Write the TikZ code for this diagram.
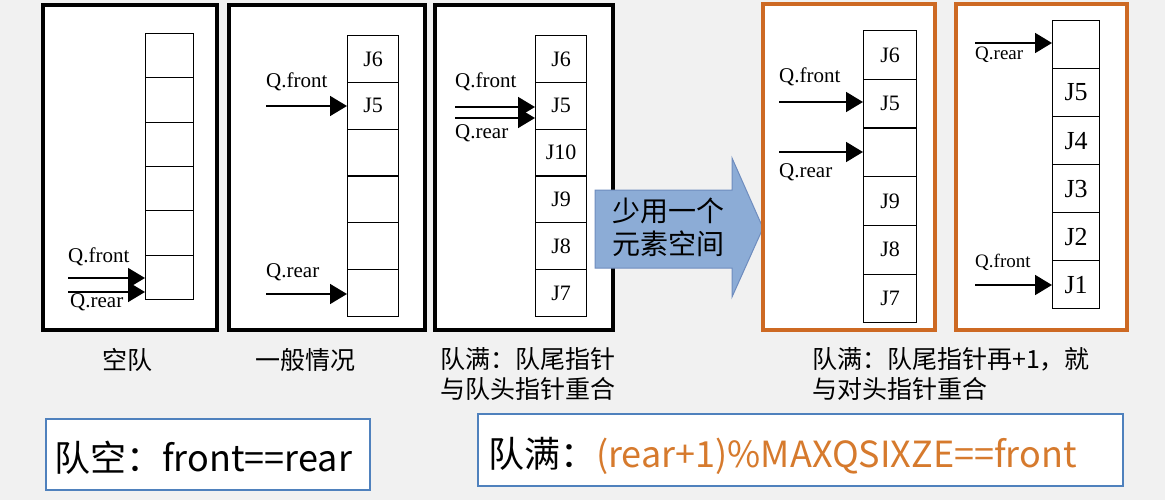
\documentclass[tikz,border=0pt]{standalone}
\usepackage{fontspec}
\setmainfont{Liberation Serif}
\newfontfamily\cjk{Noto Sans CJK SC}
\usetikzlibrary{arrows.meta}
\definecolor{bg}{RGB}{241,241,241}
\definecolor{orangeframe}{RGB}{205,105,35}
\definecolor{orangetext}{RGB}{214,122,45}
\definecolor{boxblue}{RGB}{79,129,189}
\definecolor{arrowfill}{RGB}{140,172,214}
\definecolor{arrowdraw}{RGB}{110,140,190}
\tikzset{
  framebk/.style={draw=black, line width=4.8pt, fill=white},
  frameor/.style={draw=orangeframe, line width=4pt, fill=white},
  cell/.style={draw, line width=1.2pt, inner sep=0pt, anchor=north west, font=\fontsize{22}{22}\selectfont},
  ptr/.style={line width=1.6pt, -{Triangle[length=17pt,width=20pt]}},
  qlab/.style={anchor=west, inner sep=0pt, font=\fontsize{21}{21}\selectfont},
  caption/.style={anchor=west, align=left, inner sep=0pt, font=\cjk\fontsize{25}{30}\selectfont},
  formbox/.style={draw=boxblue, line width=2pt, fill=white},
  formtext/.style={anchor=west, inner sep=0pt, font=\cjk\fontsize{36}{36}\selectfont}
}
\begin{document}
\begin{tikzpicture}[x=1pt,y=-1pt]
\fill[bg] (0,0) rectangle (1165,500);
\useasboundingbox (0,0) rectangle (1165,500);

% ---------- panel 1 ----------
\draw[framebk] (43,5) rectangle (217,330);
\foreach \lab [count=\i from 0] in {{},{},{},{},{},{}}
  \node[cell, minimum width=48pt, minimum height=44.3pt] (p1c\i) at (145,33+\i*44.3) {\lab};
\node[qlab] (p1fl) at (68,257) {Q.front};
\node[qlab] (p1rl) at (70,302) {Q.rear};
\coordinate (p1fs) at (68,278);
\coordinate (p1rs) at (68,292);
\draw[ptr] (p1fs) -- (p1fs -| p1c5.west);
\draw[ptr] (p1rs) -- (p1rs -| p1c5.west);

% ---------- panel 2 ----------
\draw[framebk] (229,5) rectangle (425,330);
\foreach \lab [count=\i from 0] in {J6,J5,{},{},{},{}}
  \node[cell, minimum width=51pt, minimum height=46.8pt] (p2c\i) at (347,35+\i*46.8) {\lab};
\node[qlab] (p2fl) at (266,82) {Q.front};
\node[qlab] (p2rl) at (266,272) {Q.rear};
\coordinate (p2fs) at (266,106);
\coordinate (p2rs) at (266,294);
\draw[ptr] (p2fs) -- (p2fs -| p2c1.west);
\draw[ptr] (p2rs) -- (p2rs -| p2c5.west);

% ---------- panel 3 ----------
\draw[framebk] (435,5) rectangle (613,330);
\foreach \lab [count=\i from 0] in {J6,J5,J10,J9,J8,J7}
  \node[cell, minimum width=51pt, minimum height=46.8pt] (p3c\i) at (535,35+\i*46.8) {\lab};
\node[qlab] (p3fl) at (455,82) {Q.front};
\node[qlab] (p3rl) at (455,133) {Q.rear};
\coordinate (p3fs) at (455,107);
\coordinate (p3rs) at (455,118);
\draw[ptr] (p3fs) -- (p3fs -| p3c1.west);
\draw[ptr] (p3rs) -- (p3rs -| p3c1.west);

% ---------- big arrow ----------
\draw[fill=arrowfill, draw=arrowdraw, line width=1pt]
  (595,190) -- (732,190) -- (732,158) -- (763,228) -- (732,297) -- (732,268) -- (595,268) -- cycle;
\node[align=center, inner sep=0pt, font=\cjk\fontsize{28}{33}\selectfont] (bigtxt) at (668,227) {少用一个\\元素空间};

% ---------- panel 4 ----------
\draw[frameor] (763,4) rectangle (935,330);
\foreach \lab [count=\i from 0] in {J6,J5,{},J9,J8,J7}
  \node[cell, minimum width=53pt, minimum height=48.7pt] (p4c\i) at (863,30+\i*48.7) {\lab};
\node[qlab] (p4fl) at (779,77) {Q.front};
\node[qlab] (p4rl) at (779,172) {Q.rear};
\coordinate (p4fs) at (779,102);
\coordinate (p4rs) at (779,152);
\draw[ptr] (p4fs) -- (p4fs -| p4c1.west);
\draw[ptr] (p4rs) -- (p4rs -| p4c2.west);

% ---------- panel 5 ----------
\draw[frameor] (956,4) rectangle (1127,330);
\foreach \lab [count=\i from 0] in {{},J5,J4,J3,J2,J1}
  \node[cell, minimum width=47pt, minimum height=48pt, font=\fontsize{26}{26}\selectfont] (p5c\i) at (1052,20+\i*48) {\lab};
\node[qlab, font=\fontsize{19}{19}\selectfont] (p5rl) at (975,55) {Q.rear};
\node[qlab, font=\fontsize{19}{19}\selectfont] (p5fl) at (975,262) {Q.front};
\coordinate (p5rs) at (975,43);
\coordinate (p5fs) at (975,285);
\draw[ptr] (p5rs) -- (p5rs -| p5c0.west);
\draw[ptr] (p5fs) -- (p5fs -| p5c5.west);

% ---------- captions ----------
\node[caption] (cap1) at (102,360) {空队};
\node[caption] (cap2) at (255,360) {一般情况};
\node[caption, anchor=north west] (cap3) at (440,347) {队满：队尾指针\\与队头指针重合};
\node[caption, anchor=north west] (cap4) at (812,347) {队满：队尾指针再+1，就\\与对头指针重合};

% ---------- formula boxes ----------
\draw[formbox] (46,419) rectangle (370,490);
\node[formtext] (f1) at (54,458) {队空：front==rear};
\draw[formbox] (478,414) rectangle (1123,486);
\node[formtext] (f2) at (488,456) {队满：\textcolor{orangetext}{(rear+1)\%MAXQSIXZE==front}};
\end{tikzpicture}
\end{document}
